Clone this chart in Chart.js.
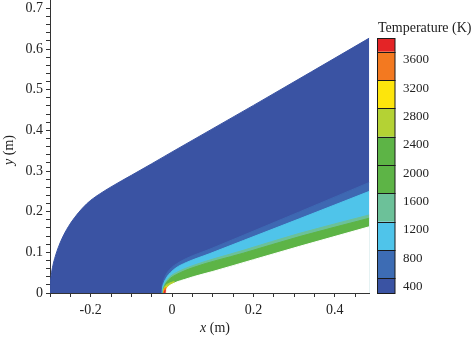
<!DOCTYPE html>
<html><head><meta charset="utf-8">
<script src="https://cdn.jsdelivr.net/npm/chart.js@4.4.1/dist/chart.umd.min.js"></script>
<style>html,body{margin:0;padding:0;background:#fff;}</style>
</head><body>
<canvas id="c" width="474" height="338" style="width:474px;height:338px;display:block"></canvas>
<script>
// ---- data (metres) : boundaries of each temperature band ----
const shockX = [-0.3, -0.299, -0.297, -0.293, -0.287, -0.28, -0.27, -0.255, -0.24, -0.22, -0.2, -0.175, -0.15, -0.125, -0.1, -0.05, 0, 0.2, 0.4846];
const shockY = [0, 0.025, 0.044, 0.067, 0.090, 0.111, 0.135, 0.163, 0.185, 0.209, 0.228, 0.2455, 0.261, 0.2755, 0.2895, 0.318, 0.347, 0.4615, 0.627];

const t800X = [-0.026, -0.025, -0.022, -0.015, -0.0057, 0.01, 0.035, 0.093, 0.175, 0.314, 0.4846];
const t800Y = [0, 0.014, 0.028, 0.045, 0.058, 0.071, 0.085, 0.108, 0.142, 0.200, 0.272];

const t1200X = [-0.0245, -0.0235, -0.02, -0.013, -0.004, 0.01, 0.035, 0.093, 0.175, 0.314, 0.4846];
const t1200Y = [0, 0.012, 0.025, 0.039, 0.050, 0.062, 0.075, 0.097, 0.129, 0.183, 0.25];

const t1600X = [-0.023, -0.022, -0.019, -0.013, -0.004, 0.01, 0.05, 0.175, 0.314, 0.4846];
const t1600Y = [0, 0.010, 0.020, 0.031, 0.041, 0.050, 0.067, 0.105, 0.147, 0.192];

const t2000X = [-0.022, -0.021, -0.018, -0.012, -0.003, 0.01, 0.05, 0.175, 0.314, 0.4846];
const t2000Y = [0, 0.009, 0.018, 0.028, 0.037, 0.045, 0.062, 0.098, 0.139, 0.184];

const t2800X = [-0.0215, -0.021, -0.019, -0.015, -0.009, -0.002, 0.006];
const t2800Y = [0, 0.006, 0.013, 0.019, 0.023, 0.026, 0.028];

const t3200X = [-0.021, -0.0205, -0.019, -0.016, -0.012];
const t3200Y = [0, 0.006, 0.011, 0.014, 0.016];

const t3600X = [-0.0205, -0.02, -0.0185, -0.016, -0.0135];
const t3600Y = [0, 0.006, 0.011, 0.013, 0.014];

const t4000X = [-0.0195, -0.019, -0.0175, -0.015];
const t4000Y = [0, 0.004, 0.006, 0.007];

const bodyX = [-0.0145, -0.014, -0.0125, -0.009, -0.003, 0.005, 0.011, 0.03, 0.052, 0.1, 0.2, 0.314, 0.4846];
const bodyY = [0, 0.006, 0.011, 0.016, 0.020, 0.024, 0.027, 0.033, 0.040, 0.053, 0.082, 0.115, 0.163];

// ---- axes ----
const xTicks = [-0.3, -0.25, -0.2, -0.15, -0.1, -0.05, 0, 0.05, 0.1, 0.15, 0.2, 0.25, 0.3, 0.35, 0.4, 0.45];
const yTicks = [0, 0.02, 0.04, 0.06, 0.08, 0.1, 0.12, 0.14, 0.16, 0.18, 0.2, 0.22, 0.24, 0.26, 0.28, 0.3, 0.32, 0.34, 0.36, 0.38, 0.4, 0.42, 0.44, 0.46, 0.48, 0.5, 0.52, 0.54, 0.56, 0.58, 0.6, 0.62, 0.64, 0.66, 0.68, 0.7];

// ---- colour bar ----
const barColors = ['#e42426', '#f37920', '#fde50c', '#b4d234', '#5db446', '#5db446', '#6cc199', '#4fc4ea', '#3d6cb4', '#3a53a3'];
const barLabels = ['3600', '3200', '2800', '2400', '2000', '1600', '1200', '800', '400'];
const barTitle = 'Temperature (K)';

const serif = '"Liberation Serif","Times New Roman",serif';

function pts(xs, ys) { return xs.map((x, i) => ({x: x, y: ys[i]})); }
function band(xs, ys, color, order) {
  return {data: pts(xs, ys), showLine: true, fill: 'origin', backgroundColor: color,
          borderColor: color, borderWidth: 1, pointRadius: 0, cubicInterpolationMode: 'monotone', order: order};
}

const overlay = {
  id: 'overlay',
  afterDraw(chart) {
    const ctx = chart.ctx;
    ctx.save();
    ctx.fillStyle = '#222';
    ctx.textBaseline = 'middle';
    // x title
    const f1 = 'italic 14px ' + serif, f2 = '14px ' + serif;
    ctx.font = f1; const wa = ctx.measureText('x').width;
    ctx.font = f2; const wb = ctx.measureText(' (m)').width;
    let sx = 215 - (wa + wb) / 2;
    ctx.textAlign = 'left';
    ctx.font = f1; ctx.fillText('x', sx, 328);
    ctx.font = f2; ctx.fillText(' (m)', sx + wa, 328);
    // y title
    ctx.save();
    ctx.translate(9, 150);
    ctx.rotate(-Math.PI / 2);
    ctx.font = f1; const wc = ctx.measureText('y').width;
    sx = -(wc + wb) / 2;
    ctx.fillText('y', sx, 0);
    ctx.font = f2; ctx.fillText(' (m)', sx + wc, 0);
    ctx.restore();
    // colour bar
    const bx = 377.5, bw = 17.5, top = 38.3, unit = 28.33;
    const edges = [top, top + 13.4];
    for (let i = 1; i <= 8; i++) edges.push(top + 13.4 + i * unit);
    edges.push(293.3);
    for (let i = 0; i < barColors.length; i++) {
      ctx.fillStyle = barColors[i];
      ctx.fillRect(bx, edges[i], bw, edges[i + 1] - edges[i]);
    }
    ctx.strokeStyle = '#1a1a1a'; ctx.lineWidth = 1;
    for (let i = 0; i < barColors.length; i++) {
      ctx.strokeRect(bx, Math.round(edges[i]) + 0.5, bw, Math.round(edges[i + 1]) - Math.round(edges[i]));
    }
    ctx.fillStyle = '#222';
    ctx.font = '13px ' + serif;
    ctx.textAlign = 'left';
    barLabels.forEach((l, i) => ctx.fillText(l, 403, edges[1] + 8.3 + i * unit));
    ctx.font = '14px ' + serif;
    ctx.fillText(barTitle, 378, 28.5);
    ctx.restore();
  }
};

function noPad(s) { s.paddingTop = 0; s.paddingBottom = 0; s.paddingLeft = 0; s.paddingRight = 0; }

new Chart(document.getElementById('c').getContext('2d'), {
  type: 'scatter',
  data: {datasets: [
    band(shockX, shockY, '#3a53a3', 10),
    band(t800X, t800Y, '#3e68b2', 9),
    band(t1200X, t1200Y, '#4fc4ea', 8),
    band(t1600X, t1600Y, '#6cc199', 7),
    band(t2000X, t2000Y, '#5db446', 6),
    band(t2800X, t2800Y, '#b4d234', 5),
    band(t3200X, t3200Y, '#fde50c', 4),
    band(t3600X, t3600Y, '#f37920', 3),
    band(t4000X, t4000Y, '#e42426', 2),
    band(bodyX, bodyY, '#ffffff', 1)
  ]},
  options: {
    responsive: false, animation: false, devicePixelRatio: 1,
    layout: {padding: {left: 0, right: 104.7, top: 0.3, bottom: 0}},
    plugins: {legend: {display: false}, tooltip: {enabled: false}},
    scales: {
      x: {type: 'linear', min: -0.3, max: 0.4846, z: 1,
        afterBuildTicks: s => { s.ticks = xTicks.map(v => ({value: v})); },
        afterFit: s => { s.height = 45; noPad(s); },
        ticks: {autoSkip: false, maxRotation: 0, padding: 5, color: '#222', font: {family: serif, size: 14},
          callback: v => (Math.abs(v * 5 - Math.round(v * 5)) < 1e-6) ? (Math.abs(v) < 1e-9 ? '0' : v.toFixed(1)) : ''},
        grid: {drawOnChartArea: false, drawTicks: true, tickLength: 4, tickColor: '#333'},
        border: {display: true, color: '#333', width: 1}
      },
      y: {type: 'linear', min: 0, max: 0.72, z: 1,
        afterBuildTicks: s => { s.ticks = yTicks.map(v => ({value: v})); },
        afterFit: s => { s.width = 50; noPad(s); },
        ticks: {autoSkip: false, padding: 3, color: '#222', font: {family: serif, size: 14},
          callback: v => (Math.abs(v * 10 - Math.round(v * 10)) < 1e-6) ? (Math.abs(v) < 1e-9 ? '0' : v.toFixed(1)) : ''},
        grid: {drawOnChartArea: false, drawTicks: true, tickLength: 4, tickColor: '#333'},
        border: {display: true, color: '#333', width: 1}
      }
    }
  },
  plugins: [overlay]
});
</script>
</body></html>
